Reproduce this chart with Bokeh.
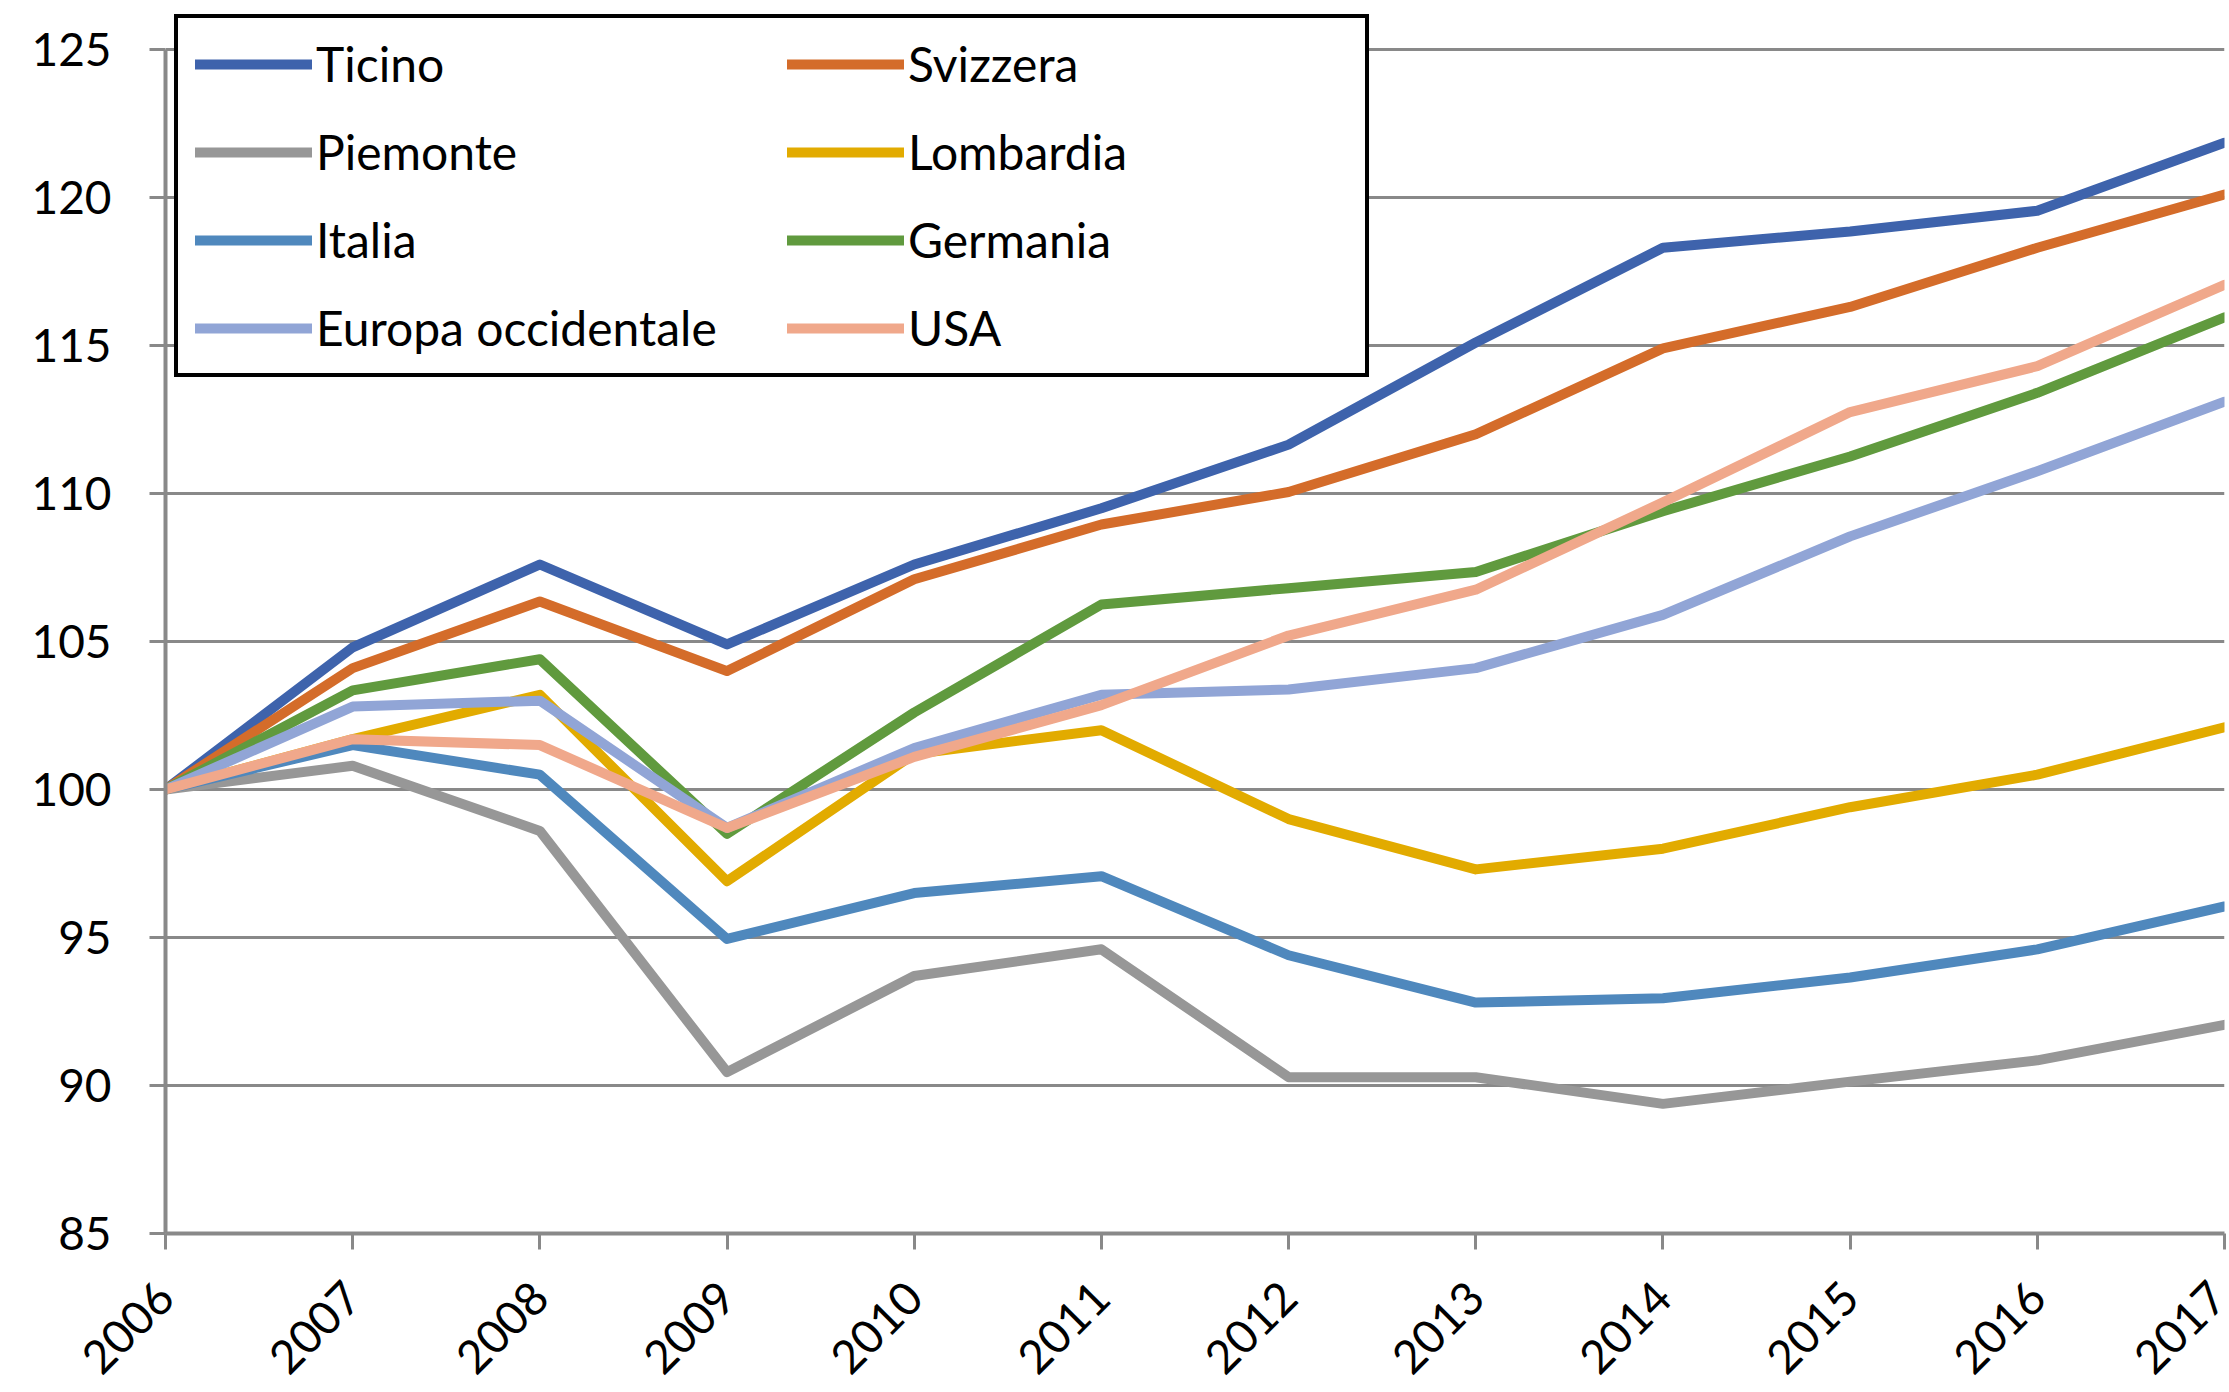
from bokeh.plotting import figure
from bokeh.models import FixedTicker, Range1d, Legend, LegendItem
from bokeh.embed import file_html
from bokeh.resources import INLINE

years = [2006, 2007, 2008, 2009, 2010, 2011, 2012, 2013, 2014, 2015, 2016, 2017]
y_ticks = [85, 90, 95, 100, 105, 110, 115, 120, 125]

ticino     = [100, 104.8, 107.6, 104.9, 107.6, 109.5, 111.65, 115.1, 118.3, 118.85, 119.55, 121.85]
svizzera   = [100, 104.1, 106.35, 104.0, 107.1, 108.95, 110.05, 112.0, 114.9, 116.3, 118.3, 120.1]
piemonte   = [100, 100.8, 98.6, 90.45, 93.7, 94.6, 90.28, 90.28, 89.38, 90.13, 90.85, 92.05]
lombardia  = [100, 101.7, 103.2, 96.9, 101.2, 102.0, 99.0, 97.3, 98.0, 99.4, 100.5, 102.1]
italia     = [100, 101.5, 100.5, 94.95, 96.5, 97.07, 94.4, 92.8, 92.95, 93.65, 94.6, 96.05]
germania   = [100, 103.35, 104.4, 98.5, 102.6, 106.25, 106.8, 107.35, 109.4, 111.25, 113.4, 115.95]
europa_occ = [100, 102.8, 103.0, 98.7, 101.4, 103.2, 103.38, 104.1, 105.9, 108.55, 110.75, 113.1]
usa        = [100, 101.7, 101.5, 98.7, 101.1, 102.85, 105.2, 106.75, 109.7, 112.75, 114.3, 117.05]

series = [
    ("Ticino", ticino, "#3E63AC"),
    ("Svizzera", svizzera, "#D46C2A"),
    ("Piemonte", piemonte, "#979797"),
    ("Lombardia", lombardia, "#E2AB00"),
    ("Italia", italia, "#4F88BD"),
    ("Germania", germania, "#609A3E"),
    ("Europa occidentale", europa_occ, "#91A5D6"),
    ("USA", usa, "#F0A88B"),
]

FONT = "Lato"
GRID = "#898989"

p = figure(width=2229, height=1392, output_backend="svg", toolbar_location=None,
           x_range=Range1d(2006, 2017), y_range=Range1d(85, 126.18),
           min_border_left=165, min_border_right=5, min_border_top=14, min_border_bottom=159)
p.outline_line_color = None
p.background_fill_color = "white"
p.border_fill_color = "white"

p.xgrid.grid_line_color = None
p.ygrid.grid_line_color = GRID
p.ygrid.grid_line_width = 3
p.ygrid.ticker = FixedTicker(ticks=y_ticks)

p.yaxis.ticker = FixedTicker(ticks=y_ticks)
p.yaxis.bounds = (85, 125)
p.xaxis.ticker = FixedTicker(ticks=years)
for ax in (p.xaxis[0], p.yaxis[0]):
    ax.axis_line_color = GRID
    ax.axis_line_width = 4
    ax.major_tick_line_color = GRID
    ax.major_tick_line_width = 3
    ax.major_tick_in = 0
    ax.major_tick_out = 16
    ax.minor_tick_line_color = None
    ax.major_label_text_font = FONT
    ax.major_label_text_font_size = "46px"
    ax.major_label_text_color = "black"
p.yaxis.major_label_standoff = 38
p.xaxis.major_label_standoff = 40
p.xaxis.major_label_orientation = 0.785398

items = []
for name, vals, col in series:
    r = p.line(years, vals, line_color=col, line_width=10, line_cap="round", line_join="round")
    items.append(LegendItem(label=name, renderers=[r]))

# legend fills column by column: left column first, then right column
order = [0, 2, 4, 6, 1, 3, 5, 7]
legend = Legend(items=[items[i] for i in order], ncols=2, location=(9, 856),
                orientation="vertical")
legend.label_text_font = FONT
legend.label_text_font_size = "48px"
legend.label_text_color = "black"
legend.glyph_width = 117
legend.glyph_height = 54
legend.label_height = 54
legend.label_width = 440
legend.label_standoff = 4
legend.spacing = 31
legend.padding = 17
legend.margin = 0
legend.border_line_color = "black"
legend.border_line_alpha = 1.0
legend.border_line_width = 4
legend.background_fill_color = "white"
legend.background_fill_alpha = 1.0
p.add_layout(legend, "center")

open("out.html", "w").write(file_html(p, INLINE))
